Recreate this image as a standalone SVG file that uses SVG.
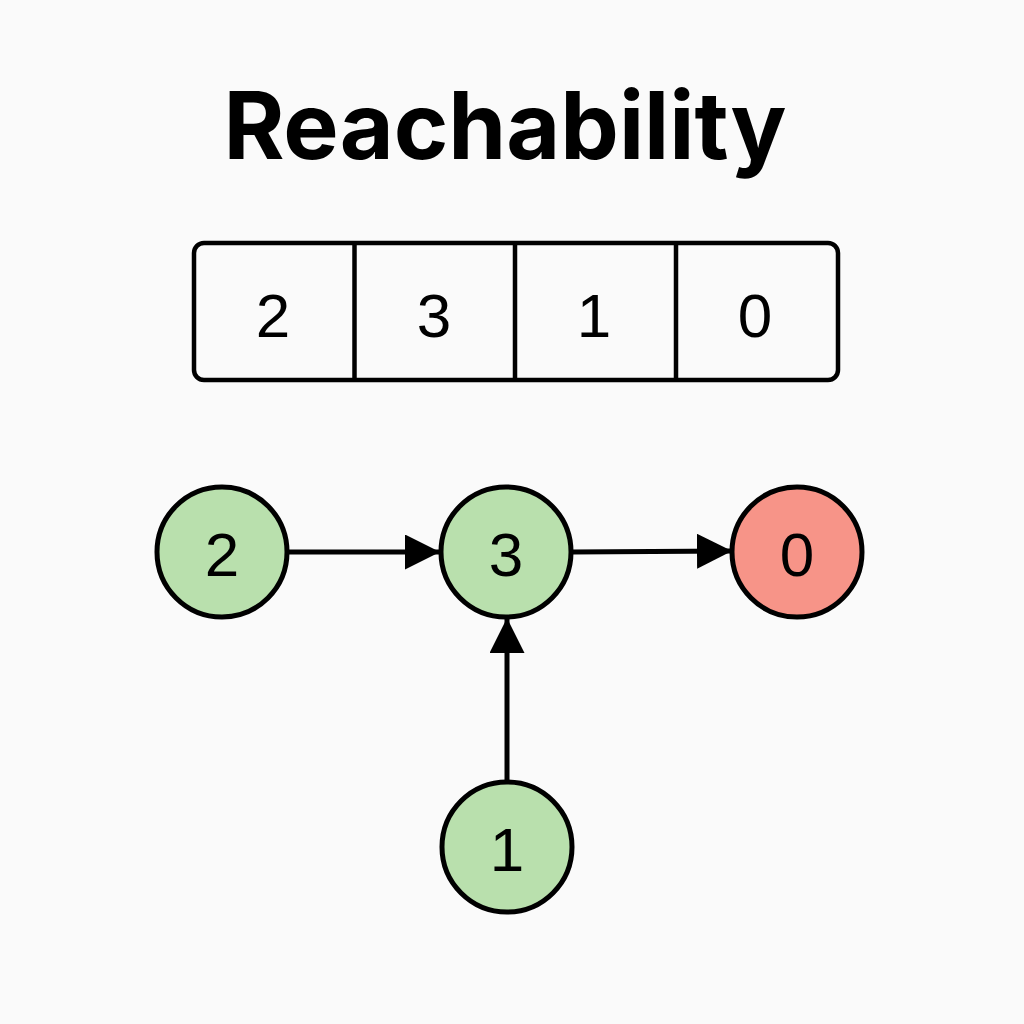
<svg xmlns="http://www.w3.org/2000/svg" width="1024" height="1024" viewBox="0 0 1024 1024">
<style>
.bg{fill:#fafafa}
.title{font-family:Inter,"Liberation Sans",sans-serif;font-weight:700;font-size:93px;fill:#000}
.cell{fill:none;stroke:#000;stroke-width:4.5}
.num{font-family:"Liberation Sans",Arial,sans-serif;font-size:62px;fill:#000;text-anchor:middle}
.node{stroke:#000;stroke-width:5}
.green{fill:#b9e0ad}
.red{fill:#f79488}
.edge{stroke:#000;stroke-width:5;fill:none}
</style>
<defs>
<marker id="arr" viewBox="0 0 10 10" refX="10" refY="5" markerWidth="7" markerHeight="7" markerUnits="strokeWidth" orient="auto">
<path d="M0,0 L10,5 L0,10 z" fill="#000"/>
</marker>
</defs>
<rect class="bg" x="0" y="0" width="1024" height="1024"/>
<text class="title" x="505" y="159" text-anchor="middle">Reachability</text>
<g id="array">
<rect class="cell" x="194" y="243" width="644" height="137" rx="10"/>
<line class="cell" x1="354.5" y1="243" x2="354.5" y2="380"/>
<line class="cell" x1="515" y1="243" x2="515" y2="380"/>
<line class="cell" x1="676" y1="243" x2="676" y2="380"/>
<text class="num" x="273" y="337">2</text>
<text class="num" x="434" y="337">3</text>
<text class="num" x="594" y="337">1</text>
<text class="num" x="755" y="337">0</text>
</g>
<g id="edges">
<line class="edge" x1="288" y1="552" x2="440" y2="552" marker-end="url(#arr)"/>
<line class="edge" x1="572" y1="552" x2="732" y2="551" marker-end="url(#arr)"/>
<line class="edge" x1="507" y1="782" x2="507" y2="618" marker-end="url(#arr)"/>
</g>
<g id="node2">
<circle class="node green" cx="222" cy="552" r="65"/>
<text class="num" x="222" y="576">2</text>
</g>
<g id="node3">
<circle class="node green" cx="506" cy="552" r="65"/>
<text class="num" x="506" y="576">3</text>
</g>
<g id="node0">
<circle class="node red" cx="797" cy="552" r="65"/>
<text class="num" x="797" y="576">0</text>
</g>
<g id="node1">
<circle class="node green" cx="507" cy="847" r="65"/>
<text class="num" x="507" y="871">1</text>
</g>
</svg>
